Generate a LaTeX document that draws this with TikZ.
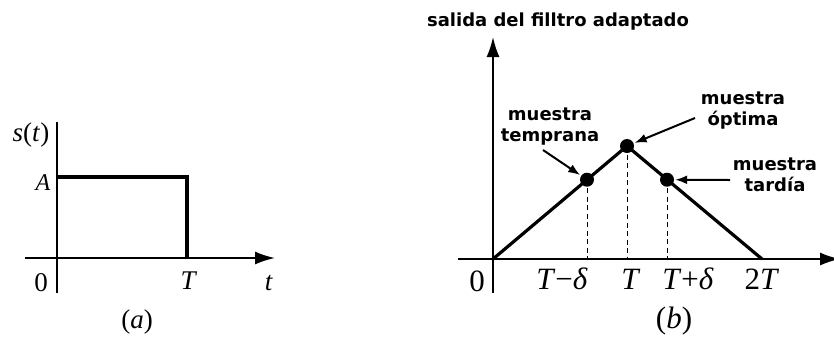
\documentclass[tikz,border=0pt]{standalone}
\usepackage{fontspec}
\newfontfamily\lblfont{DejaVu Sans}
\newfontfamily\symfont{Liberation Serif}
\usetikzlibrary{arrows.meta,positioning,calc}

\begin{document}
\begin{tikzpicture}[x=1pt,y=-1pt,
  axis/.style={line width=1.8pt},
  axisarrow/.style={axis,-{Latex[length=20pt,width=13pt]}},
  signal/.style={line width=3.2pt,line join=miter},
  guide/.style={line width=1pt,dash pattern=on 5pt off 3.5pt},
  sample/.style={circle,fill=black,inner sep=0pt,minimum size=14pt},
  pointer/.style={line width=2pt,-{Latex[length=12pt,width=9pt]},shorten >=1pt},
  mlabel/.style={font=\symfont\fontsize{27}{30}\selectfont,inner sep=0pt},
  blabel/.style={font=\symfont\fontsize{31}{34}\selectfont,inner sep=0pt},
  note/.style={font=\lblfont\bfseries\fontsize{18}{21}\selectfont,align=center,inner sep=0pt}
]
\useasboundingbox (0,0) rectangle (834,341);

% (a) rectangular pulse
\coordinate (oa) at (57,258);
\coordinate (xa0) at (25,258);
\coordinate (xa1) at (275,258);
\coordinate (ya0) at (57,293);
\coordinate (ya1) at (57,122);
\coordinate (aa) at (57,177);
\coordinate (ab) at (187,177);
\coordinate (ac) at (187,258);
\draw[axisarrow] (xa0) -- (xa1);
\draw[axis] (ya0) -- (ya1);
\draw[signal] (aa) -- (ab) -- (ac);
\node[mlabel] (sa) at (31,135) {\textit{s}(\textit{t})};
\node[mlabel,font=\symfont\fontsize{24}{28}\selectfont] (la) at (43,183) {\textit{A}};
\node[mlabel] (za) at (41,283) {0};
\node[mlabel] (ta) at (189,281) {\textit{T}};
\node[mlabel] (tt) at (269,283) {\textit{t}};
\node[mlabel] (capa) at (137,322) {(\textit{a})};

% (b) matched filter output
\coordinate (ob) at (493,259);
\coordinate (xb0) at (458,259);
\coordinate (xb1) at (840,259);
\coordinate (yb0) at (493,293);
\coordinate (yb1) at (493,37);
\coordinate (peak) at (627,146);
\coordinate (end) at (762,259);
\draw[axisarrow] (xb0) -- (xb1);
\draw[axisarrow] (yb0) -- (yb1);
\draw[signal] (ob) -- (peak) -- (end);
\node[sample] (early) at (587,179.7) {};
\node[sample] (best) at (peak) {};
\node[sample] (late) at (667,179.7) {};
\foreach \s in {early,best,late}
    \draw[guide] (\s.center) -- (\s.center |- ob);

\node[blabel] (zb) at (477,281) {0};
\node[blabel] (tm) at (562,279) {\textit{T}−\textit{δ}};
\node[blabel] (tb) at (631,279) {\textit{T}};
\node[blabel] (tp) at (688,279) {\textit{T}+\textit{δ}};
\node[blabel] (tt2) at (762,279) {2\textit{T}};
\node[blabel] (capb) at (674,321) {(\textit{b})};

\node[note] (title) at (558,22) {salida del filltro adaptado};
\node[note] (nearly) at (550,127) {muestra\\temprana};
\node[note] (nbest) at (743,111) {muestra\\óptima};
\node[note] (nlate) at (775,175) {muestra\\tardía};
\coordinate (pe) at (543,150);
\coordinate (pb) at (695,118);
\coordinate (pl) at (730,180);
\draw[pointer] (pe) -- (early);
\draw[pointer] (pb) -- (best);
\draw[pointer] (pl) -- (late);
\end{tikzpicture}
\end{document}
